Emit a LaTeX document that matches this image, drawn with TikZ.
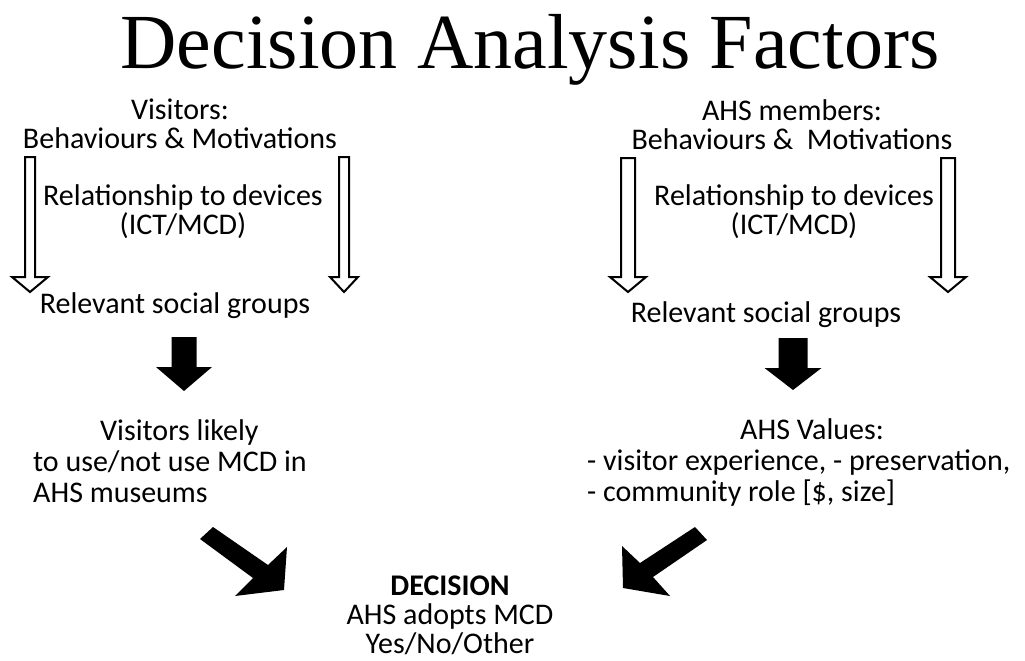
\documentclass[tikz,border=0pt]{standalone}
\usepackage{fontspec}
\setmainfont{Carlito}
\newfontfamily\titlefont{Liberation Serif}
% vertical block arrow: style, centre x, top y, head y, tip y, shaft half width, head half width
\newcommand\vblockarrow[7]{%
  \path[#1] (#2-#6,#3) -- (#2+#6,#3) -- (#2+#6,#4) -- (#2+#7,#4) -- (#2,#5)
    -- (#2-#7,#4) -- (#2-#6,#4) -- cycle;}
\begin{document}
\begin{tikzpicture}[x=1pt,y=-1pt,
  lbl/.style={font=\fontsize{30}{29}\selectfont, inner sep=0pt, anchor=base, align=center},
  widelbl/.style={lbl, font=\fontsize{30}{31}\selectfont},
  hollowarrow/.style={draw=black, line width=2pt, fill=white, line join=miter},
  solidarrow/.style={fill=black, draw=none}]
\useasboundingbox[fill=white] (0,0) rectangle (1025,661);

% title
\node[inner sep=0pt, anchor=base, font=\titlefont\fontsize{78}{78}\selectfont] (title) at (530,69) {Decision Analysis Factors};

% visitors column (node base = baseline of the last line)
\node[lbl] (visitors) at (180,148) {Visitors:\\Behaviours \& Motivations};
\node[lbl] (visdev) at (183,234) {Relationship to devices\\(ICT/MCD)};
\node[lbl] (visgroups) at (175,313) {Relevant social groups};
\node[widelbl, anchor=base west, align=left] (vislikely) at (33,502)
  {\hspace*{67pt}Visitors likely\\to use/not use MCD in\\AHS museums};

% AHS members column
\node[lbl] (members) at (792,149) {AHS members:\\Behaviours \&\ \ Motivations};
\node[lbl] (memdev) at (794,234) {Relationship to devices\\(ICT/MCD)};
\node[lbl] (memgroups) at (766,322) {Relevant social groups};
\node[widelbl, anchor=base west, align=left] (values) at (587,501)
  {\hspace*{153pt}AHS Values:\\- visitor experience, - preservation,\\- community role [\$, size]};

% decision
\node[lbl] (decision) at (450,653)
  {\textbf{DECISION}\\AHS adopts MCD\\Yes/No/Other};

% hollow arrows beside the device blocks
\vblockarrow{hollowarrow}{30}{157}{277}{292}{5}{18}
\vblockarrow{hollowarrow}{344}{157}{277}{292}{5}{14}
\vblockarrow{hollowarrow}{628}{158}{277}{292}{7}{18}
\vblockarrow{hollowarrow}{948}{158}{277}{292}{7}{18}

% solid arrows down to the outcomes
\vblockarrow{solidarrow}{184}{337}{367}{391}{12.5}{28}
\vblockarrow{solidarrow}{793}{338}{368}{390}{14.5}{28.5}

% diagonal arrows into the decision
\fill (213,527) -- (268,565) -- (287,547) -- (284,590) -- (235,596) -- (253,578) -- (200,539) -- cycle;
\fill (695,527) -- (707,540) -- (653,577) -- (670,596) -- (623,588) -- (622,546) -- (640,563) -- cycle;
\end{tikzpicture}
\end{document}
